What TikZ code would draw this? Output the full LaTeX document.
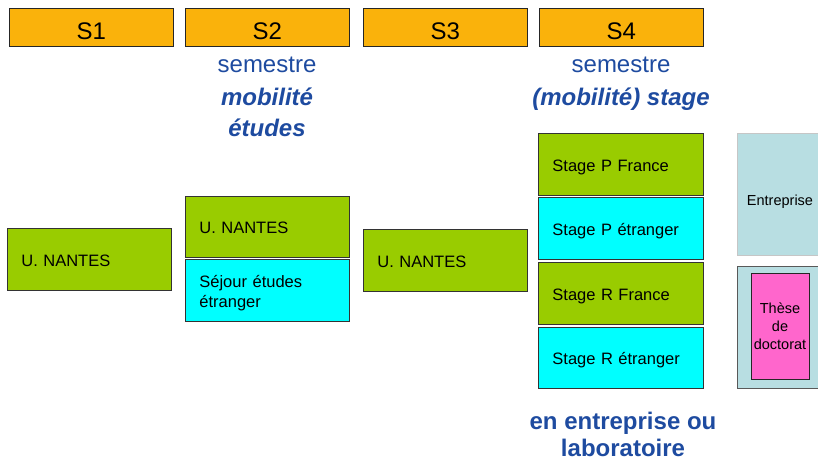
\documentclass[tikz,border=0pt]{standalone}
\usepackage{fontspec}
\setmainfont{Liberation Sans}
\definecolor{sorange}{RGB}{250,178,11}
\definecolor{sgreen}{RGB}{153,204,0}
\definecolor{scyan}{RGB}{0,255,255}
\definecolor{slight}{RGB}{184,222,226}
\definecolor{spink}{RGB}{255,102,204}
\definecolor{sblue}{RGB}{30,75,160}
\begin{document}
\begin{tikzpicture}[x=1pt,y=-1pt,
  sembox/.style={draw=black!85, line width=0.8pt, fill=sorange, minimum width=164pt,
    minimum height=38pt, inner sep=0pt, anchor=north west, text height=25pt, text depth=0pt,
    font=\fontsize{24}{28}\selectfont},
  cell/.style={draw=black!80, line width=0.8pt, anchor=north west, inner xsep=14pt,
    inner ysep=0pt, align=left, text width=136pt, font=\fontsize{16.5}{20}\selectfont},
  oneline/.style={text height=14pt, text depth=0pt},
  green/.style={fill=sgreen},
  cyan/.style={fill=scyan},
  bluetxt/.style={text=sblue, anchor=base, inner sep=0pt, font=\fontsize{24}{28}\selectfont},
  bluebold/.style={bluetxt, font=\fontsize{24}{28}\selectfont\bfseries\itshape},
  blueup/.style={bluetxt, font=\fontsize{24}{28}\selectfont\bfseries},
  smalltxt/.style={inner sep=0pt, align=center, font=\fontsize{14.5}{18}\selectfont}
]
\clip (0,0) rectangle (818,462);
\fill[white] (0,0) rectangle (818,462);

% semester headers
\node[sembox] (S1) at (9,8) {S1};
\node[sembox] (S2) at (185,8) {S2};
\node[sembox] (S3) at (363,8) {S3};
\node[sembox] (S4) at (539,8) {S4};

% blue captions
\node[bluetxt]  (s2a) at (267,73) {semestre};
\node[bluebold] (s2b) at (267,106) {mobilité};
\node[bluebold] (s2c) at (267,137) {études};
\node[bluetxt]  (s4a) at (621,73) {semestre};
\node[bluebold] (s4b) at (621,106) {(mobilité) stage};
\node[blueup]   (s4c) at (623,429) {en entreprise ou};
\node[blueup]   (s4d) at (623,456) {laboratoire};

% S1
\node[cell, oneline, green, minimum height=62pt] (n1) at (7,228) {U. NANTES};
% S2
\node[cell, oneline, green, minimum height=61pt] (n2) at (185,196) {U. NANTES};
\node[cell, cyan, minimum height=62pt] (sej) at (185,259) {\rule{0pt}{18pt}Séjour études\\étranger};
% S3
\node[cell, oneline, green, minimum height=62pt] (n3) at (363,229) {U. NANTES};
% S4
\node[cell, oneline, green, minimum height=62pt, text width=137pt] (pf) at (538,133) {Stage P France};
\node[cell, oneline, cyan, minimum height=62pt, text width=137pt] (pe) at (538,197) {Stage P étranger};
\node[cell, oneline, green, minimum height=62pt, text width=137pt] (rf) at (538,262) {Stage R France};
\node[cell, oneline, cyan, minimum height=61pt, text width=137pt] (re) at (538,327) {Stage R étranger};

% right column
\node[draw=gray!45, line width=0.8pt, fill=slight, anchor=north west, inner sep=0pt,
  minimum width=86pt, minimum height=122pt] (ent) at (737,133) {};
\node[smalltxt] (entt) at (780,202) {Entreprise};
\node[draw=black!65, line width=0.8pt, fill=slight, anchor=north west, inner sep=0pt,
  minimum width=86pt, minimum height=122pt] (these) at (737,266) {};
\node[draw=black!85, line width=0.8pt, fill=spink, anchor=north west, inner sep=0pt,
  minimum width=58pt, minimum height=106pt] (pink) at (751,273) {};
\node[smalltxt] (pinkt) at (780,326) {Thèse\\de\\doctorat};
\end{tikzpicture}
\end{document}
